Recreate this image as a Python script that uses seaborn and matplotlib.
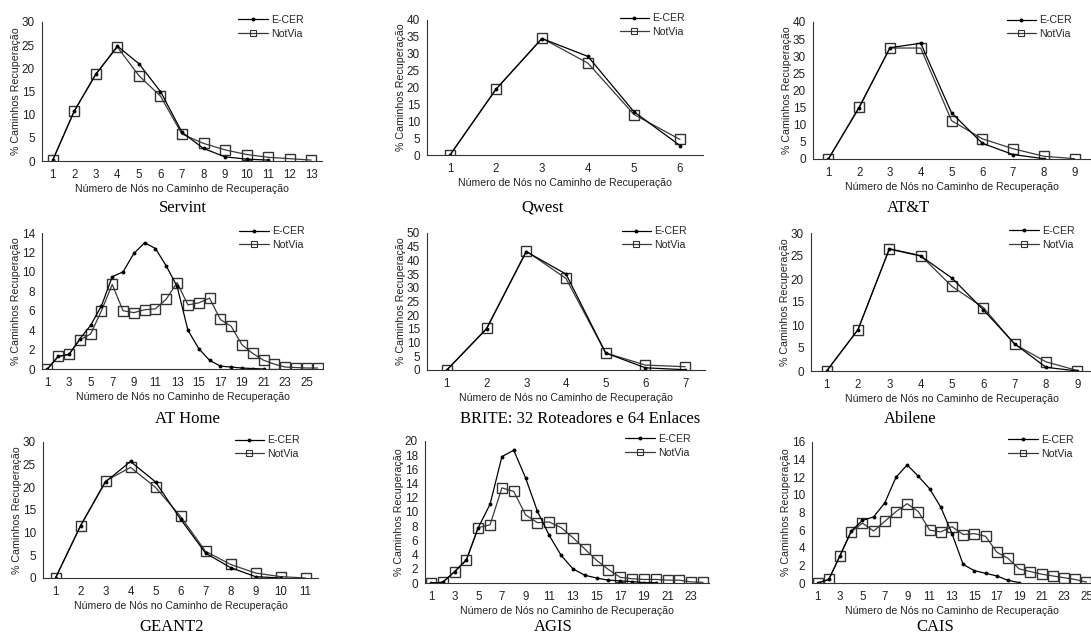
import numpy as np
import pandas as pd
import matplotlib
matplotlib.use("Agg")
import matplotlib.pyplot as plt
import seaborn as sns
from matplotlib.lines import Line2D
from matplotlib.ticker import MultipleLocator

# % de caminhos de recuperação por número de nós (E-CER x NotVia)
servint_ecer = [0.2, 10.8, 18.7, 24.8, 21.0, 15.0, 6.2, 2.7, 0.9, 0.4, 0.2]
servint_notvia = [0.2, 10.8, 18.8, 24.6, 18.4, 14.0, 5.8, 3.8, 2.4, 1.4, 0.8, 0.5, 0.2]

qwest_ecer = [0.0, 19.5, 34.5, 29.2, 12.8, 2.8]
qwest_notvia = [0.0, 19.5, 34.6, 27.2, 12.0, 4.6]

att_ecer = [0.0, 15.0, 32.5, 33.8, 13.5, 4.6, 1.3, 0.1]
att_notvia = [0.0, 15.2, 32.4, 32.4, 11.2, 5.9, 3.0, 0.8, 0.1]

athome_ecer = [0.0, 1.3, 1.5, 3.1, 4.5, 6.5, 9.5, 10.0, 11.9, 13.0, 12.4, 10.6, 8.5,
               4.0, 2.1, 0.9, 0.3, 0.2, 0.1, 0.05, 0.0]
athome_notvia = [0.0, 1.3, 1.5, 3.0, 3.6, 6.0, 8.7, 6.0, 5.8, 6.1, 6.2, 7.2, 8.9,
                 6.6, 6.8, 7.3, 5.1, 4.4, 2.5, 1.6, 0.9, 0.5, 0.2, 0.15, 0.1, 0.1]

brite_ecer = [0.0, 15.0, 43.2, 35.0, 6.2, 0.8, 0.1]
brite_notvia = [0.0, 15.2, 43.4, 33.4, 6.2, 1.8, 1.2]

abilene_ecer = [0.0, 9.0, 26.5, 25.0, 20.2, 13.3, 5.9, 0.8, 0.0]
abilene_notvia = [0.0, 9.0, 26.6, 25.1, 18.4, 13.8, 5.8, 2.0, 0.1]

geant2_ecer = [0.0, 11.5, 21.2, 25.7, 21.2, 13.0, 5.5, 2.3, 0.3, 0.0]
geant2_notvia = [0.0, 11.5, 21.4, 24.4, 20.0, 13.6, 5.9, 3.0, 1.1, 0.3, 0.0]

agis_ecer = [0.0, 0.1, 1.6, 3.3, 7.8, 11.1, 17.8, 18.7, 14.8, 10.1, 6.7, 3.9, 2.0,
             1.1, 0.7, 0.4, 0.3, 0.2, 0.05, 0.05]
agis_notvia = [0.0, 0.1, 1.6, 3.2, 7.8, 8.2, 13.4, 12.9, 9.6, 8.5, 8.6, 7.8, 6.4,
               4.8, 3.2, 1.9, 0.8, 0.6, 0.5, 0.5, 0.4, 0.4, 0.15, 0.1]

cais_ecer = [0.0, 0.4, 3.1, 5.9, 7.1, 7.5, 9.1, 12.0, 13.4, 12.1, 10.7, 8.6, 5.6,
             2.1, 1.4, 1.1, 0.8, 0.3, 0.05]
cais_notvia = [0.0, 0.4, 3.1, 5.8, 6.8, 5.9, 7.0, 8.1, 9.0, 8.1, 6.0, 5.8, 6.4,
               5.5, 5.6, 5.3, 3.5, 2.8, 1.6, 1.3, 1.0, 0.8, 0.6, 0.4, 0.1]

titulos = ["Servint", "Qwest", "AT&T", "AT Home", "BRITE: 32 Roteadores e 64 Enlaces",
           "Abilene", "GEANT2", "AGIS", "CAIS"]
series = [(servint_ecer, servint_notvia), (qwest_ecer, qwest_notvia), (att_ecer, att_notvia),
          (athome_ecer, athome_notvia), (brite_ecer, brite_notvia), (abilene_ecer, abilene_notvia),
          (geant2_ecer, geant2_notvia), (agis_ecer, agis_notvia), (cais_ecer, cais_notvia)]
n_categorias = [13, 6, 9, 26, 7, 9, 11, 24, 25]
y_max = [30, 40, 40, 14, 50, 30, 30, 20, 16]
y_passo = [5, 5, 5, 2, 5, 5, 5, 2, 2]
x_passo = [1, 1, 1, 2, 1, 1, 1, 2, 2]

# layout em pixels: esquerda, topo, direita, base do eixo; centro do subtítulo
W, H = 1091, 635
caixas = [(42, 22, 322, 161), (427, 20, 703, 155), (813, 22, 1090, 159),
          (42, 233, 323, 369), (427, 233, 705, 370), (811, 233, 1093, 371),
          (43, 442, 318, 578), (425, 441, 709, 583), (812, 442, 1092, 583)]
subtitulos_xy = [(183, 208), (543, 208), (908, 208),
                 (187, 419), (580, 419), (910, 419),
                 (172, 627), (553, 627), (935, 627)]

sns.set_theme(style="white")
plt.rcParams['font.family'] = ['Liberation Sans', 'DejaVu Sans']

fig = plt.figure(figsize=(W / 100, H / 100), dpi=100)
cor_eixo = '#333333'
cor_texto = '#222222'

for i in range(9):
    l, t, r, b = caixas[i]
    ax = fig.add_axes([l / W, 1 - b / H, (r - l) / W, (b - t) / H])
    ecer, notvia = series[i]
    df = pd.concat([
        pd.DataFrame({'nos': np.arange(1, len(ecer) + 1), 'pct': ecer, 'metodo': 'E-CER'}),
        pd.DataFrame({'nos': np.arange(1, len(notvia) + 1), 'pct': notvia, 'metodo': 'NotVia'}),
    ])
    sns.lineplot(data=df[df.metodo == 'NotVia'], x='nos', y='pct', ax=ax, color='#3a3a3a',
                 linewidth=0.9, marker='s', markersize=6.8, markerfacecolor='none',
                 markeredgecolor='#333333', markeredgewidth=1.0, legend=False)
    sns.lineplot(data=df[df.metodo == 'E-CER'], x='nos', y='pct', ax=ax, color='black',
                 linewidth=0.9, marker='o', markersize=2.8, markeredgewidth=0, legend=False)

    n = n_categorias[i]
    ax.set_xlim(0.5, n + 0.5)
    ax.set_ylim(0, y_max[i])
    ax.set_xticks(np.arange(1, n + 1, x_passo[i]))
    ax.set_xticks(np.arange(0.5, n + 1, 1), minor=True)
    ax.yaxis.set_major_locator(MultipleLocator(y_passo[i]))
    ax.tick_params(axis='x', which='major', length=0, pad=6, labelsize=8.3, labelcolor=cor_texto)
    ax.tick_params(axis='x', which='minor', length=3, width=0.7, direction='out', color=cor_eixo)
    ax.tick_params(axis='y', which='major', length=3, width=0.7, direction='out', pad=2,
                   labelsize=8.5, color=cor_eixo, labelcolor=cor_texto)
    for s in ['top', 'right']:
        ax.spines[s].set_visible(False)
    for s in ['left', 'bottom']:
        ax.spines[s].set_color(cor_eixo)
        ax.spines[s].set_linewidth(0.8)
    ax.set_xlabel('Número de Nós no Caminho de Recuperação', fontsize=7.6, labelpad=2,
                  color=cor_texto)
    ax.set_ylabel('% Caminhos Recuperação', fontsize=7.7, labelpad=0.5, color=cor_texto)
    ax.patch.set_alpha(0)

    alcas = [Line2D([], [], color='black', linewidth=0.9, marker='o', markersize=2.8,
                    markeredgewidth=0),
             Line2D([], [], color='#3a3a3a', linewidth=0.9, marker='s', markersize=4.2,
                    markerfacecolor='none', markeredgecolor='#333333', markeredgewidth=0.8)]
    ax.legend(alcas, ['E-CER', 'NotVia'], loc='upper right', bbox_to_anchor=(0.95, 1.08),
              frameon=False, fontsize=7.6, handlelength=2.8, handletextpad=0.3,
              labelspacing=0.35, borderaxespad=0)

    sx, sy = subtitulos_xy[i]
    fig.text(sx / W, 1 - sy / H, titulos[i], ha='center', va='center', fontsize=12,
             family=['Liberation Serif', 'DejaVu Serif'], color='black')

fig.savefig('out.png', dpi=100, facecolor='white')
